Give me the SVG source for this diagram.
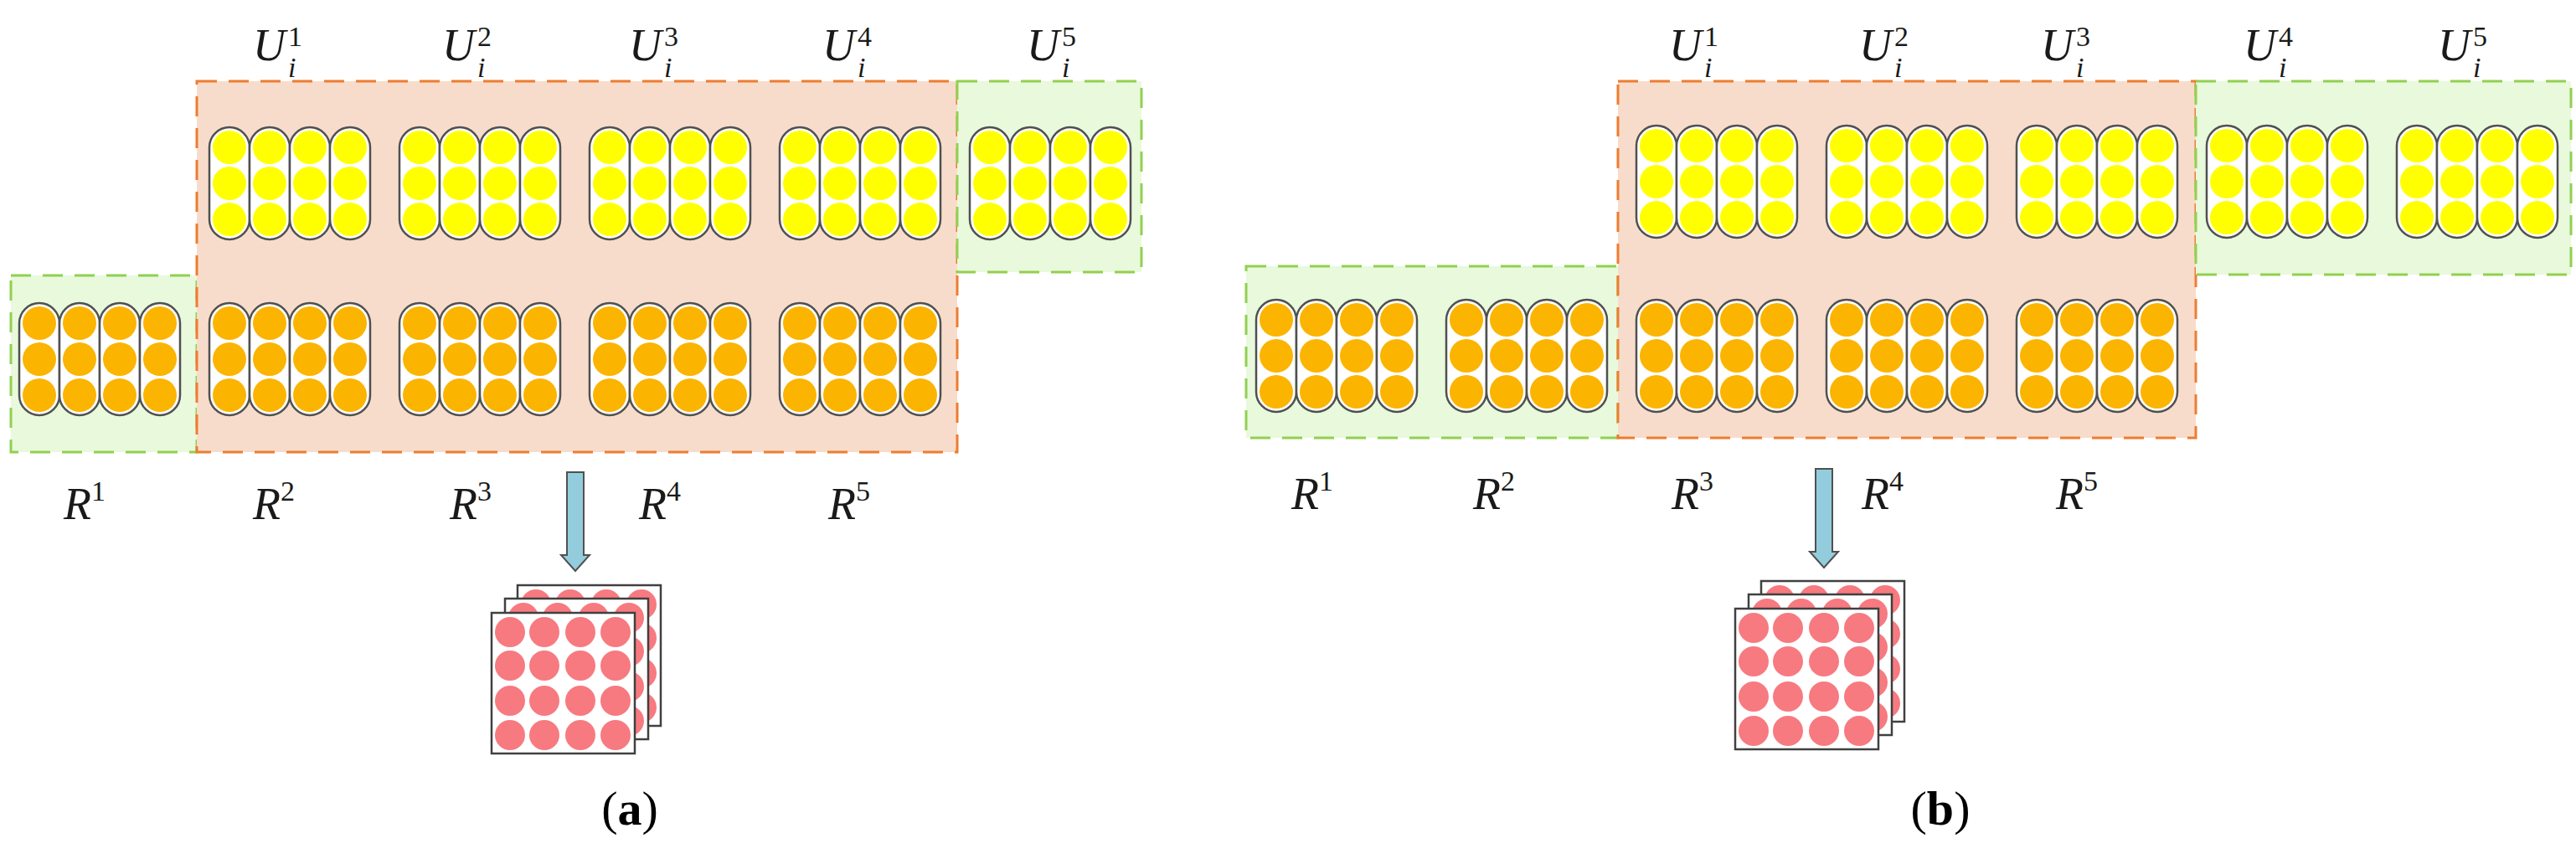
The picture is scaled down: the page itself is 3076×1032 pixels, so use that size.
<svg xmlns="http://www.w3.org/2000/svg" xmlns:xlink="http://www.w3.org/1999/xlink" width="3076" height="1032" viewBox="0 0 3076 1032">
<style>
.lab{font-family:"Liberation Serif",serif;font-size:54px;fill:#1a1a1a}
.it{font-style:italic}
.sm{font-size:34px}
.cap{font-family:"Liberation Serif",serif;font-size:58px;fill:#000}
.og{fill:#f8dccb;stroke:#ed7d31;stroke-width:3;stroke-dasharray:24 14}
.gg{fill:#e8f9dc;stroke:#92d050;stroke-width:3;stroke-dasharray:24 14}
.pill{fill:#fff;stroke:#505050;stroke-width:2.5}
.sq{fill:#fff;stroke:#404040;stroke-width:2.5}
.pk{fill:#f77a80}
</style>
<defs>
<g id="py"><rect class="pill" x="0" y="0" width="48" height="134" rx="24"/><circle cx="24" cy="24" r="20" fill="#ffff00"/><circle cx="24" cy="67" r="20" fill="#ffff00"/><circle cx="24" cy="110" r="20" fill="#ffff00"/></g>
<g id="po"><rect class="pill" x="0" y="0" width="48" height="134" rx="24"/><circle cx="24" cy="24" r="20" fill="#fbb400"/><circle cx="24" cy="67" r="20" fill="#fbb400"/><circle cx="24" cy="110" r="20" fill="#fbb400"/></g>
<g id="by"><use xlink:href="#py"/><use xlink:href="#py" x="48"/><use xlink:href="#py" x="96"/><use xlink:href="#py" x="144"/></g>
<g id="bo"><use xlink:href="#po"/><use xlink:href="#po" x="48"/><use xlink:href="#po" x="96"/><use xlink:href="#po" x="144"/></g>
<g id="face"><rect class="sq" x="0" y="0" width="171" height="168"/>
<g class="pk"><circle cx="22" cy="23" r="18"/><circle cx="63" cy="23" r="18"/><circle cx="106" cy="23" r="18"/><circle cx="148" cy="23" r="18"/>
<circle cx="22" cy="63" r="18"/><circle cx="63" cy="63" r="18"/><circle cx="106" cy="63" r="18"/><circle cx="148" cy="63" r="18"/>
<circle cx="22" cy="105" r="18"/><circle cx="63" cy="105" r="18"/><circle cx="106" cy="105" r="18"/><circle cx="148" cy="105" r="18"/>
<circle cx="22" cy="146" r="18"/><circle cx="63" cy="146" r="18"/><circle cx="106" cy="146" r="18"/><circle cx="148" cy="146" r="18"/></g></g>
<g id="stack"><use xlink:href="#face" x="31" y="-33"/><use xlink:href="#face" x="16" y="-17"/><use xlink:href="#face"/></g>
<path id="arr" d="M-10,0 H10 V99 H17 L0,118 L-17,99 H-10 Z" fill="#93cddd" stroke="#505050" stroke-width="2"/>
</defs>

<g id="panel-a">
<rect id="a-green-r" class="gg" x="13" y="329" width="222" height="211"/>
<rect id="a-orange" class="og" x="235" y="97" width="908" height="443"/>
<rect id="a-green-u" class="gg" x="1143" y="97" width="220" height="228"/>
<g id="a-blocks">
<use xlink:href="#by" x="250" y="152"/><use xlink:href="#by" x="477" y="152"/><use xlink:href="#by" x="704" y="152"/><use xlink:href="#by" x="931" y="152"/><use xlink:href="#by" x="1158" y="152"/>
<use xlink:href="#bo" x="23" y="362"/><use xlink:href="#bo" x="250" y="362"/><use xlink:href="#bo" x="477" y="362"/><use xlink:href="#bo" x="704" y="362"/><use xlink:href="#bo" x="931" y="362"/>
</g>
<g id="a-ulabels" class="lab">
<text x="302" y="72"><tspan class="it">U</tspan><tspan class="it sm" x="344" y="92">i</tspan><tspan class="sm" x="344" y="55">1</tspan></text>
<text x="528" y="72"><tspan class="it">U</tspan><tspan class="it sm" x="570" y="92">i</tspan><tspan class="sm" x="570" y="55">2</tspan></text>
<text x="751" y="72"><tspan class="it">U</tspan><tspan class="it sm" x="793" y="92">i</tspan><tspan class="sm" x="793" y="55">3</tspan></text>
<text x="982" y="72"><tspan class="it">U</tspan><tspan class="it sm" x="1024" y="92">i</tspan><tspan class="sm" x="1024" y="55">4</tspan></text>
<text x="1226" y="72"><tspan class="it">U</tspan><tspan class="it sm" x="1268" y="92">i</tspan><tspan class="sm" x="1268" y="55">5</tspan></text>
</g>
<g id="a-rlabels" class="lab">
<text x="76" y="620"><tspan class="it">R</tspan><tspan class="sm" dy="-22">1</tspan></text>
<text x="302" y="620"><tspan class="it">R</tspan><tspan class="sm" dy="-22">2</tspan></text>
<text x="537" y="620"><tspan class="it">R</tspan><tspan class="sm" dy="-22">3</tspan></text>
<text x="763" y="620"><tspan class="it">R</tspan><tspan class="sm" dy="-22">4</tspan></text>
<text x="989" y="620"><tspan class="it">R</tspan><tspan class="sm" dy="-22">5</tspan></text>
</g>
<g id="a-output"><use xlink:href="#stack" x="587" y="732"/></g>
<text class="cap" x="752" y="985" text-anchor="middle">(<tspan font-weight="bold">a</tspan>)</text>
</g>

<g id="panel-b">
<rect id="b-green-r" class="gg" x="1488" y="318" width="444" height="205"/>
<rect id="b-orange" class="og" x="1932" y="97" width="690" height="426"/>
<rect id="b-green-u" class="gg" x="2622" y="97" width="448" height="231"/>
<g id="b-blocks">
<use xlink:href="#by" x="1954" y="150"/><use xlink:href="#by" x="2181" y="150"/><use xlink:href="#by" x="2408" y="150"/><use xlink:href="#by" x="2635" y="150"/><use xlink:href="#by" x="2862" y="150"/>
<use xlink:href="#bo" x="1500" y="358"/><use xlink:href="#bo" x="1727" y="358"/><use xlink:href="#bo" x="1954" y="358"/><use xlink:href="#bo" x="2181" y="358"/><use xlink:href="#bo" x="2408" y="358"/>
</g>
<g id="b-ulabels" class="lab">
<text x="1993" y="72"><tspan class="it">U</tspan><tspan class="it sm" x="2035" y="92">i</tspan><tspan class="sm" x="2035" y="55">1</tspan></text>
<text x="2220" y="72"><tspan class="it">U</tspan><tspan class="it sm" x="2262" y="92">i</tspan><tspan class="sm" x="2262" y="55">2</tspan></text>
<text x="2437" y="72"><tspan class="it">U</tspan><tspan class="it sm" x="2479" y="92">i</tspan><tspan class="sm" x="2479" y="55">3</tspan></text>
<text x="2679" y="72"><tspan class="it">U</tspan><tspan class="it sm" x="2721" y="92">i</tspan><tspan class="sm" x="2721" y="55">4</tspan></text>
<text x="2911" y="72"><tspan class="it">U</tspan><tspan class="it sm" x="2953" y="92">i</tspan><tspan class="sm" x="2953" y="55">5</tspan></text>
</g>
<g id="b-rlabels" class="lab">
<text x="1542" y="608"><tspan class="it">R</tspan><tspan class="sm" dy="-22">1</tspan></text>
<text x="1759" y="608"><tspan class="it">R</tspan><tspan class="sm" dy="-22">2</tspan></text>
<text x="1996" y="608"><tspan class="it">R</tspan><tspan class="sm" dy="-22">3</tspan></text>
<text x="2223" y="608"><tspan class="it">R</tspan><tspan class="sm" dy="-22">4</tspan></text>
<text x="2455" y="608"><tspan class="it">R</tspan><tspan class="sm" dy="-22">5</tspan></text>
</g>
<g id="b-output"><use xlink:href="#stack" x="2072" y="727"/></g>
<text class="cap" x="2317" y="985" text-anchor="middle">(<tspan font-weight="bold">b</tspan>)</text>
</g>

<g id="connectors">
<use xlink:href="#arr" x="687" y="564"/>
<use xlink:href="#arr" x="2178" y="560"/>
</g>
</svg>
